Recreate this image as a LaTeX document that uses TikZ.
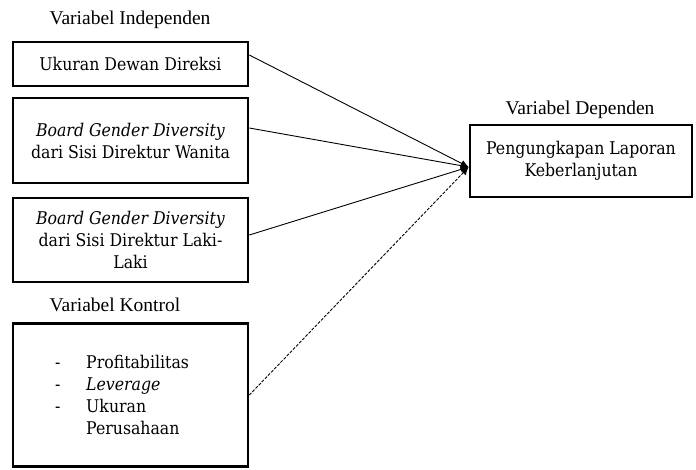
\documentclass[tikz,border=0pt]{standalone}
\usepackage{fontspec}
\setmainfont{Liberation Serif}
\newfontfamily\boxfont{DejaVu Serif Condensed}
\usetikzlibrary{arrows.meta}
\begin{document}
\begin{tikzpicture}[x=1pt,y=-1pt,
  varbox/.style={draw,line width=2.6pt,minimum width=235pt,inner sep=0pt,font=\boxfont\fontsize{17.5}{22}\selectfont,align=center},
  btxt/.style={font=\boxfont\fontsize{17.5}{22}\selectfont,inner sep=0pt,anchor=base west},
  head/.style={font=\fontsize{19.5}{22}\selectfont,inner sep=0pt},
  conn/.style={line width=0.9pt,-{Latex[length=8pt,width=7pt]}},
  ]
\useasboundingbox (0,0) rectangle (696,469);
\node[head] (h1) at (130,20) {Variabel Independen};
\node[varbox,minimum height=44pt] (b1) at (130.5,64) {Ukuran Dewan Direksi};
\node[varbox,minimum height=85pt] (b2) at (130.5,140.5) {\textit{Board Gender Diversity}\\dari Sisi Direktur Wanita};
\node[varbox,minimum height=84pt] (b3) at (130.5,240) {\textit{Board Gender Diversity}\\dari Sisi Direktur Laki-\\Laki};
\node[head] (h2) at (115,305) {Variabel Kontrol};
\node[varbox,minimum height=143pt] (b4) at (130.5,395) {};
\node[btxt] (d1) at (55,368) {-};
\node[btxt] (t1) at (86,368) {Profitabilitas};
\node[btxt] (d2) at (55,390) {-};
\node[btxt] (t2) at (86,390) {\textit{Leverage}};
\node[btxt] (d3) at (55,412) {-};
\node[btxt] (t3) at (86,412) {Ukuran};
\node[btxt] (t4) at (86,434) {Perusahaan};
\node[head] (h3) at (580,110) {Variabel Dependen};
\node[varbox,minimum width=222pt,minimum height=72pt] (d) at (581,161) {Pengungkapan Laporan\\Keberlanjutan};
\coordinate (tip) at ([yshift=-6pt]d.west);
\draw[conn] ([yshift=9pt]b1.east) -- (tip);
\draw[conn] ([yshift=12.5pt]b2.east) -- (tip);
\draw[conn] ([yshift=5pt]b3.east) -- (tip);
\draw[conn,dash pattern=on 3pt off 1.5pt] (b4.east) -- (tip);
\end{tikzpicture}
\end{document}
